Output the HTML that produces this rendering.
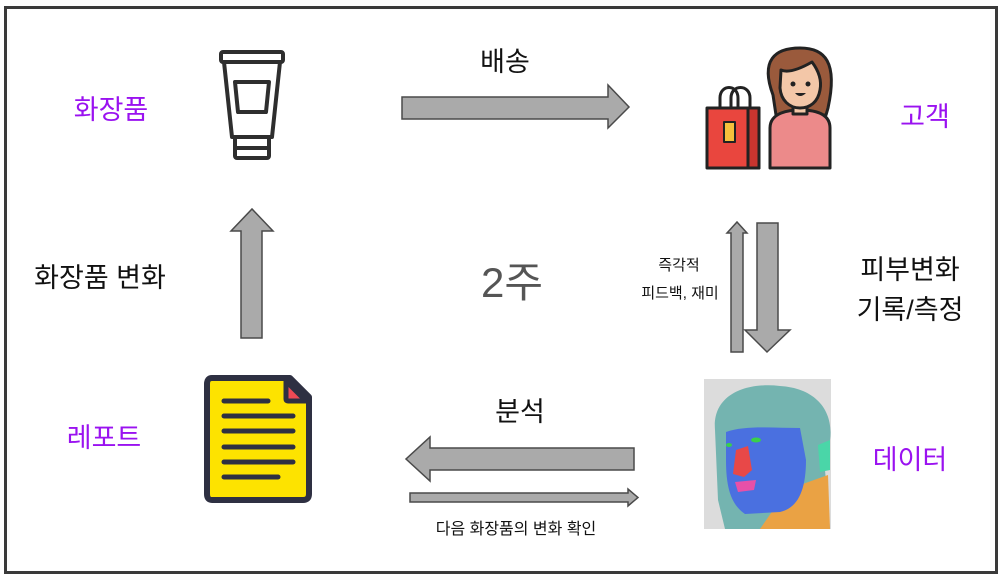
<!DOCTYPE html>
<html><head><meta charset="utf-8"><style>
html,body{margin:0;padding:0;background:#fff;}
svg{display:block;}
text{font-family:"Liberation Sans","Noto Sans CJK KR",sans-serif;}
</style></head><body>
<svg width="1003" height="579" viewBox="0 0 1003 579" xmlns="http://www.w3.org/2000/svg">
<rect x="0" y="0" width="1003" height="579" fill="#fff"/>
<rect x="5.5" y="7.5" width="991" height="565" fill="#fff" stroke="#3a3a3a" stroke-width="3"/>

<g fill="#aaaaaa" stroke="#4a4a4a" stroke-width="1.5" stroke-linejoin="miter">
<polygon points="402,97 608,97 608,85 629,107 608,128 608,119 402,119"/>
<polygon points="241,338 241,231 231,231 252,209 273,231 262,231 262,338"/>
<polygon points="634,448 430,448 430,437 406,459 430,481 430,470 634,470"/>
<polygon points="410,493 628,493 628,489 638,497.5 628,506 628,502 410,502"/>
<polygon points="731,352 731,233 727,233 737,222 747,233 743,233 743,352"/>
<polygon points="757,223 778,223 778,330 790,330 767,352 745,330 757,330"/>
</g>

<!-- cosmetic tube -->
<g fill="none" stroke="#2e2e2e" stroke-width="4" stroke-linejoin="round">
<rect x="221" y="52" width="62" height="10" rx="2"/>
<path d="M224 62 L232 137 L272 137 L280 62"/>
<polygon points="235,82 269,82 266,112 238,112"/>
<rect x="235" y="137" width="34" height="21" rx="2"/>
<line x1="236" y1="148" x2="268" y2="148"/>
</g>

<!-- customer -->
<g stroke="#222" stroke-width="3" stroke-linejoin="round">
<path d="M773 95 C760 60 775 48 800 48 C825 48 838 62 828 108 L826 115 L776 115 Z" fill="#9a5a3c"/>
<path d="M770 168 L770 128 C770 112 790 110 800 110 C812 110 830 112 830 128 L830 168 Z" fill="#ec8a8a"/>
<rect x="793" y="100" width="14" height="14" fill="#f3c7a8"/>
<path d="M781 70 C790 74 805 66 812 62 C818 70 822 80 820 90 C818 102 810 108 800 108 C789 108 781 100 780 88 Z" fill="#f3c7a8"/>
<path d="M720 108 L720 98 C720 84 738 84 738 98 L738 108 M731 108 L731 98 C731 84 750 84 750 98 L750 108" fill="none"/>
<rect x="707" y="108" width="52" height="60" fill="#e9463e"/>
<rect x="748" y="108" width="11" height="60" fill="#c9352f"/>
<rect x="724" y="122" width="11" height="20" fill="#f6c03c" stroke-width="2"/>
</g>
<circle cx="793" cy="84" r="2.5" fill="#222"/><circle cx="808" cy="84" r="2.5" fill="#222"/>
<path d="M795 93 Q800 99 806 93" fill="#222"/>

<!-- face data image -->
<rect x="704" y="379" width="127" height="150" fill="#dcdcdc"/>
<path d="M715 430 C712 395 745 382 780 386 C815 388 834 410 830 440 L825 470 L830 529 L725 529 L718 500 Z" fill="#74b4b0"/>
<path d="M780 500 L800 485 L828 475 L830 529 L760 529 Z" fill="#eaa244"/>
<path d="M726 432 C745 425 775 428 800 428 L806 460 C806 490 798 508 780 512 L745 514 C732 505 726 490 726 460 Z" fill="#4a70e0"/>
<path d="M736 450 L748 446 L752 470 L744 477 L733 474 Z" fill="#e84848"/>
<path d="M735 482 L756 480 L754 490 L738 492 Z" fill="#e850a8"/>
<path d="M818 445 L830 440 L830 470 L820 472 Z" fill="#4ad6a8"/>
<ellipse cx="756" cy="440" rx="5" ry="2.5" fill="#3ad04a"/>
<ellipse cx="729" cy="445" rx="3" ry="2" fill="#3ad04a"/>

<!-- report -->
<path d="M212 378 L290 378 L309 397 L309 494 Q309 500 303 500 L212 500 Q207 500 207 494 L207 384 Q207 378 212 378 Z" fill="#fde300" stroke="#2e3042" stroke-width="6" stroke-linejoin="round"/>
<path d="M286 381 L306 401 L288 401 Q286 401 286 399 Z" fill="#ee4a55" stroke="#2e3042" stroke-width="5" stroke-linejoin="round"/>
<g stroke="#2e3042" stroke-width="5" stroke-linecap="round">
<line x1="224" y1="401" x2="268" y2="401"/>
<line x1="224" y1="416" x2="293" y2="416"/>
<line x1="224" y1="431" x2="293" y2="431"/>
<line x1="224" y1="447" x2="293" y2="447"/>
<line x1="224" y1="462" x2="293" y2="462"/>
<line x1="224" y1="477" x2="278" y2="477"/>
</g>

<!-- text -->
<g font-size="27" text-anchor="middle">
<text x="111" y="119" fill="#9a12f0">화장품</text>
<text x="925" y="126" fill="#9a12f0">고객</text>
<text x="910" y="469" fill="#9a12f0">데이터</text>
<text x="104" y="447" fill="#9a12f0">레포트</text>
<text x="505" y="71" fill="#111">배송</text>
<text x="100" y="287" fill="#111">화장품 변화</text>
<text x="520" y="421" fill="#111">분석</text>
<text x="910" y="279" fill="#111">피부변화</text>
<text x="910" y="319" fill="#111">기록/측정</text>
</g>
<text x="512" y="297" font-size="42" text-anchor="middle" fill="#555">2주</text>
<text x="679" y="270" font-size="15" text-anchor="middle" fill="#111">즉각적</text>
<text x="680" y="298" font-size="15" text-anchor="middle" fill="#111">피드백, 재미</text>
<text x="516" y="534" font-size="16" text-anchor="middle" fill="#111">다음 화장품의 변화 확인</text>
</svg>
</body></html>
